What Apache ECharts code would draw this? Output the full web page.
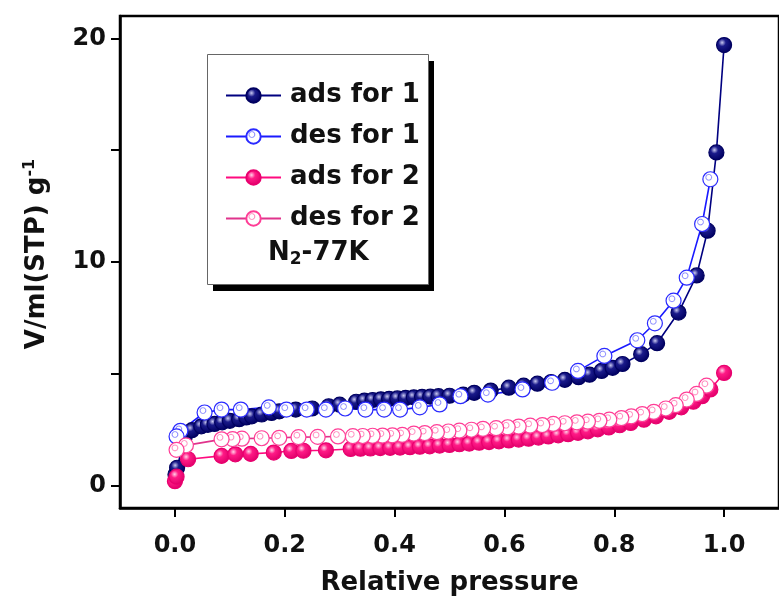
<!DOCTYPE html>
<html>
<head>
<meta charset="utf-8">
<script src="https://cdn.jsdelivr.net/npm/echarts@6/dist/echarts.min.js"></script>
<style>html,body{margin:0;padding:0;background:#fff;}#c{width:779px;height:601px;}</style>
</head>
<body>
<div id="c"></div>
<script>
// ---- data (relative pressure, V/ml(STP) g^-1) ----
const ads1 = [[0.001,0.5],[0.004,0.8],[0.018,2.2],[0.031,2.48],[0.048,2.65],[0.06,2.72],[0.072,2.76],[0.086,2.83],[0.1,2.9],[0.117,2.97],[0.13,3.05],[0.14,3.1],[0.158,3.18],[0.176,3.25],[0.19,3.32],[0.22,3.4],[0.25,3.45],[0.28,3.55],[0.3,3.62],[0.33,3.75],[0.345,3.8],[0.36,3.83],[0.375,3.86],[0.39,3.88],[0.405,3.9],[0.42,3.92],[0.435,3.95],[0.45,3.97],[0.465,3.98],[0.48,4.0],[0.5,4.02],[0.525,4.07],[0.545,4.15],[0.575,4.25],[0.608,4.38],[0.635,4.47],[0.66,4.56],[0.685,4.63],[0.71,4.73],[0.735,4.85],[0.755,4.96],[0.777,5.13],[0.797,5.27],[0.815,5.44],[0.849,5.88],[0.878,6.37],[0.917,7.74],[0.95,9.4],[0.97,11.4],[0.986,14.9],[1.0,19.7]];
const des1 = [[0.975,13.7],[0.96,11.7],[0.932,9.3],[0.908,8.27],[0.874,7.26],[0.842,6.5],[0.782,5.8],[0.734,5.13],[0.687,4.6],[0.633,4.3],[0.57,4.07],[0.52,4.0],[0.482,3.63],[0.446,3.5],[0.41,3.4],[0.381,3.4],[0.347,3.4],[0.31,3.45],[0.275,3.4],[0.24,3.4],[0.203,3.4],[0.171,3.5],[0.12,3.4],[0.085,3.4],[0.054,3.27],[0.01,2.45],[0.003,2.2]];
const ads2 = [[0.0,0.2],[0.003,0.4],[0.024,1.18],[0.085,1.33],[0.11,1.4],[0.138,1.42],[0.18,1.48],[0.212,1.55],[0.234,1.56],[0.275,1.58],[0.32,1.64],[0.338,1.65],[0.356,1.66],[0.374,1.68],[0.392,1.69],[0.41,1.7],[0.428,1.72],[0.446,1.74],[0.464,1.76],[0.482,1.79],[0.5,1.82],[0.518,1.85],[0.536,1.88],[0.554,1.92],[0.572,1.95],[0.59,1.98],[0.608,2.02],[0.626,2.06],[0.644,2.1],[0.662,2.15],[0.68,2.2],[0.698,2.25],[0.716,2.3],[0.734,2.36],[0.752,2.43],[0.77,2.52],[0.79,2.6],[0.81,2.7],[0.83,2.8],[0.854,2.95],[0.876,3.1],[0.9,3.3],[0.922,3.5],[0.944,3.75],[0.96,4.0],[0.975,4.3],[1.0,5.04]];
const des2 = [[0.968,4.47],[0.95,4.1],[0.932,3.85],[0.912,3.6],[0.894,3.45],[0.872,3.3],[0.851,3.2],[0.831,3.1],[0.813,3.02],[0.791,2.95],[0.773,2.9],[0.752,2.86],[0.732,2.83],[0.71,2.79],[0.689,2.76],[0.669,2.71],[0.647,2.68],[0.626,2.64],[0.606,2.61],[0.585,2.57],[0.561,2.54],[0.54,2.5],[0.518,2.46],[0.498,2.42],[0.477,2.39],[0.455,2.35],[0.435,2.33],[0.414,2.27],[0.396,2.25],[0.378,2.24],[0.36,2.23],[0.342,2.22],[0.324,2.21],[0.297,2.2],[0.26,2.18],[0.225,2.17],[0.19,2.14],[0.158,2.12],[0.122,2.1],[0.105,2.08],[0.085,2.07],[0.02,1.8],[0.003,1.6]];
const seriesNames = ['ads for 1','des for 1','ads for 2','des for 2'];
const xTicks = [0,0.2,0.4,0.6,0.8,1.0];
const yMajorTicks = [0,10,20];
const yAllTicks = [0,5,10,15,20];

const FONT = 'DejaVu Sans';
function ball(c0,c1,c2){
  return {type:'radial',x:0.38,y:0.35,r:0.65,colorStops:[{offset:0,color:c0},{offset:0.35,color:c1},{offset:1,color:c2}]};
}
function hollow(ring){
  return {type:'radial',x:0.4,y:0.38,r:0.6,colorStops:[{offset:0,color:'#ffffff'},{offset:0.2,color:'#ffffff'},{offset:0.28,color:ring},{offset:0.4,color:'#ffffff'},{offset:0.85,color:'#ffffff'},{offset:1,color:'#e4e4ea'}]};
}
const chart = echarts.init(document.getElementById('c'));
const mk = (name, data, lineColor, fill, border, size) => ({
  name, type:'line', data, symbol:'circle', symbolSize:size,
  lineStyle:{color:lineColor,width:1.6},
  itemStyle:{color:fill,borderColor:border,borderWidth:1.2},
  emphasis:{disabled:true}, animation:false
});
chart.setOption({
  backgroundColor:'#fff',
  animation:false,
  grid:{left:120,right:-8,top:16,bottom:89,show:true,borderColor:'#000',borderWidth:2.5},
  xAxis:{type:'value',min:-0.1,max:1.1,
    name:'Relative pressure',nameLocation:'middle',nameGap:62,
    nameTextStyle:{fontFamily:FONT,fontWeight:'bold',fontSize:26,color:'#111'},
    axisLine:{show:true,onZero:false,lineStyle:{color:'#000',width:2.5}},
    axisTick:{show:true,length:9,lineStyle:{color:'#000',width:2},customValues:xTicks},
    axisLabel:{customValues:xTicks,margin:26,fontFamily:FONT,fontWeight:'bold',fontSize:24,color:'#111',formatter:v=>v.toFixed(1)},
    splitLine:{show:false}},
  yAxis:{type:'value',min:-1,max:21,
    name:'{m|V/ml(STP) g}{s|-1}',nameLocation:'middle',nameGap:68,nameRotate:90,
    nameTextStyle:{rich:{m:{fontFamily:FONT,fontWeight:'bold',fontSize:26,color:'#111',padding:[0,0,0,16]},s:{fontFamily:FONT,fontWeight:'bold',fontSize:16,color:'#111',verticalAlign:'top',padding:[0,0,14,0]}}},
    axisLine:{show:true,onZero:false,lineStyle:{color:'#000',width:2.5}},
    axisTick:{show:true,length:9,lineStyle:{color:'#000',width:2},customValues:yAllTicks},
    axisLabel:{customValues:yMajorTicks,margin:14,fontFamily:FONT,fontWeight:'bold',fontSize:24,color:'#111'},
    splitLine:{show:false}},
  legend:{show:true,orient:'vertical',left:220,top:77,itemWidth:55,itemHeight:18,itemGap:14,z:10,
    data:seriesNames,
    textStyle:{fontFamily:FONT,fontWeight:'bold',fontSize:26,color:'#111',lineHeight:27,padding:[0,0,0,4]}},
  graphic:[
    {type:'rect',left:213,top:61,shape:{width:221,height:230},style:{fill:'#000'},z:3},
    {type:'rect',left:207,top:54,shape:{width:221,height:230},style:{fill:'#fff',stroke:'#666',lineWidth:1},z:4},
    {type:'text',left:268,top:240,z:11,style:{text:'{m|N}{b|2}{m|-77K}',rich:{m:{fontFamily:FONT,fontWeight:'bold',fontSize:26,fill:'#111'},b:{fontFamily:FONT,fontWeight:'bold',fontSize:17,fill:'#111',padding:[14,0,0,0]}}}}
  ],
  series:[
    mk(seriesNames[0], ads1, '#000080', ball('#c8c8f0','#1a1a8a','#000060'), '#000060', 15),
    mk(seriesNames[1], des1, '#1a1aff', hollow('#9090ff'), '#2a2aff', 15),
    mk(seriesNames[2], ads2, '#ff0a7f', ball('#ffd0e6','#ff1a86','#e0006a'), '#e8006e', 15),
    mk(seriesNames[3], des2, '#e0338c', hollow('#ff90c0'), '#ff3d96', 15)
  ]
});
</script>
</body>
</html>
